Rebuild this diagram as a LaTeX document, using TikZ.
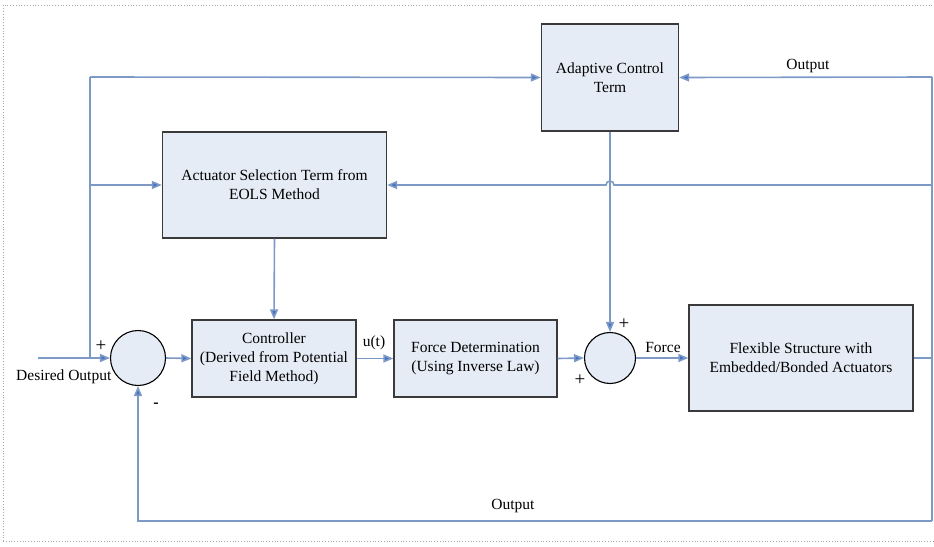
\documentclass[tikz,border=0pt]{standalone}
\usepackage{fontspec}
\setmainfont{Liberation Serif}
\usetikzlibrary{arrows.meta}
\definecolor{boxfill}{HTML}{E6ECF6}
\definecolor{boxdraw}{HTML}{3A3A3A}
\definecolor{wire}{HTML}{7D9AC6}
\definecolor{tip}{HTML}{4472C4}
\begin{document}
\begin{tikzpicture}[x=1pt,y=-1pt,
  blk/.style={draw=boxdraw, line width=1.3pt, fill=boxfill, align=center,
    font=\fontsize{15.5}{19}\selectfont, inner sep=0pt},
  sumnode/.style={circle, draw=black, line width=1.1pt, fill=boxfill, inner sep=0pt},
  wireln/.style={draw=wire, line width=1.6pt},
  conn/.style={wireln, -{Triangle[length=10pt,width=8pt,fill=tip]}},
  lbl/.style={font=\fontsize{15.5}{17}\selectfont, inner sep=0pt},
  sgn/.style={font=\fontsize{19}{20}\selectfont, inner sep=0pt}]
\useasboundingbox (0,0) rectangle (934,546);
\draw[gray!70, line width=0.8pt, dotted] (3,541) -- (3,5) -- (934,5);
\draw[gray!70, line width=0.8pt, dotted] (3,541) -- (934,541);

\node[blk, minimum width=137pt, minimum height=107pt] (adapt) at (610,77.5) {Adaptive Control\\Term};
\node[blk, minimum width=224pt, minimum height=106pt] (act) at (274.5,185) {Actuator Selection Term from\\EOLS Method};
\node[blk, minimum width=164pt, minimum height=77pt] (ctrl) at (274,358.5) {Controller\\(Derived from Potential\\Field Method)};
\node[blk, minimum width=163pt, minimum height=77pt] (force) at (475.5,358.5) {Force Determination\\(Using Inverse Law)};
\node[blk, minimum width=224pt, minimum height=106pt] (flex) at (801,358) {Flexible Structure with\\Embedded/Bonded Actuators};
\node[sumnode, minimum size=55pt] (s1) at (138,358) {};
\node[sumnode, minimum size=51pt] (s2) at (610,358) {};

\coordinate (din) at (38,358);
\coordinate (j) at (90,358);
\coordinate (jt) at (90,77);
\coordinate (jm) at (90,185);
\coordinate (rx) at (932,358);
\coordinate (rt) at (932,77);
\coordinate (rm) at (932,185);
\coordinate (rb) at (932,521);
\coordinate (lb) at (138,521);
\coordinate (hopr) at (614,185);

% forward path
\draw[conn] (din) -- (s1.west);
\draw[conn] (s1.east) -- (ctrl.west);
\draw[conn] (ctrl.east) -- (force.west);
\draw[conn] (force.east) -- (s2.west);
\draw[conn] (s2.east) -- (flex.west);
\draw[wireln] (flex.east) -- (rx);
% left feed-forward branches
\draw[wireln] (j) -- (jt);
\draw[conn] (jt) -- (adapt.west);
\draw[conn] (jm) -- (act.west);
\draw[conn] (act.south) -- (ctrl.north);
\draw[conn] (adapt.south) -- (s2.north);
% right output bus
\draw[wireln] (rt) -- (rb);
\draw[conn] (rt) -- (adapt.east);
\draw[conn] (rm) -- (hopr) arc (0:-180:4) -- (act.east);
\draw[conn] (rb) -- (lb) -- (s1.south);

% labels
\node[sgn] at (101,346) {+};
\node[lbl, anchor=west] at (16,377) {Desired Output};
\node[font=\bfseries\fontsize{16}{16}\selectfont, inner sep=0pt] at (156,405) {-};
\node[lbl] at (374,343) {u(t)};
\node[lbl] at (663,347) {Force};
\node[sgn] at (624,324) {+};
\node[sgn] at (580,380) {+};
\node[lbl] at (808,66) {Output};
\node[lbl] at (513,506) {Output};
\end{tikzpicture}
\end{document}
